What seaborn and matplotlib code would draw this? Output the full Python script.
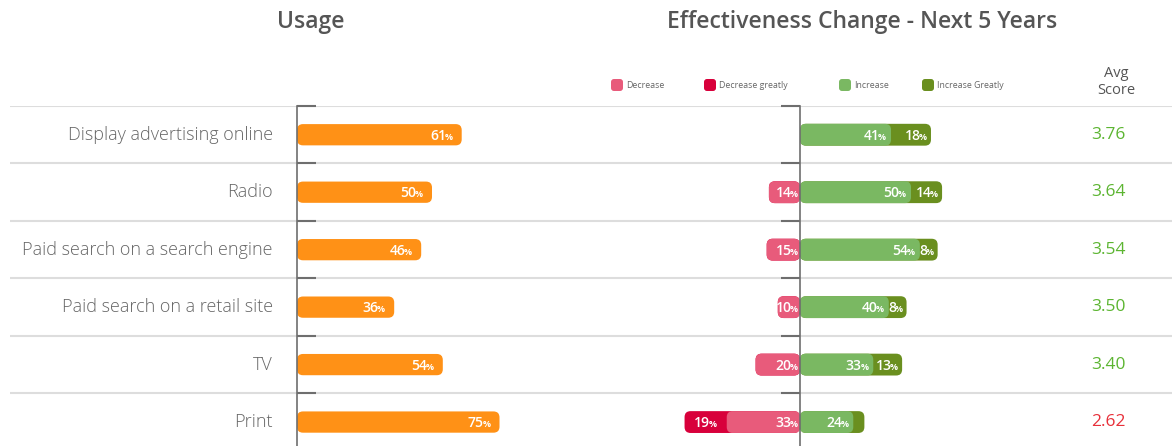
import numpy as np
import matplotlib.pyplot as plt
import seaborn as sns
from matplotlib.patches import FancyBboxPatch

# Data
channels = ["Display advertising online", "Radio", "Paid search on a search engine",
            "Paid search on a retail site", "TV", "Print"]
usage = [61, 50, 46, 36, 54, 75]
decrease = [0, 14, 15, 10, 20, 33]
decrease_greatly = [0, 0, 0, 0, 0, 19]
increase = [41, 50, 54, 40, 33, 24]
increase_greatly = [18, 14, 8, 8, 13, 5]
avg_score = [3.76, 3.64, 3.54, 3.50, 3.40, 2.62]
legend_labels = ["Decrease", "Decrease greatly", "Increase", "Increase Greatly"]

ORANGE = "#ff9116"
PINK = "#e85b7b"
RED = "#d8003b"
LGREEN = "#7ab862"
DGREEN = "#6a8f1f"
GRAY = "#555555"
AXIS = "#6e6e6e"

W, H = 1172, 446
TOP = 106            # pixel row of the first separator line
Y_LIM = ((H - 134) / 57.6, -0.5)
PX_Y = (H - TOP) / (Y_LIM[0] - Y_LIM[1])
USE_PX = 2.7         # pixels per percent, usage panel
EFF_PX = 2.22        # pixels per percent, effectiveness panel

sns.set_style("white")
plt.rcParams["font.family"] = ["Open Sans", "DejaVu Sans"]

fig = plt.figure(figsize=(W / 100, H / 100), dpi=100)


def px_axes(left, width):
    ax = fig.add_axes([left / W, 0, width / W, (H - TOP) / H])
    ax.set_facecolor("none")
    return ax


def round_bars(ax, px_x, radius=6):
    # swap seaborn's rectangles for rounded ones
    for p in list(ax.patches):
        w = p.get_width()
        if w == 0:
            continue
        x0 = min(p.get_x(), p.get_x() + w)
        r = radius / px_x
        fb = FancyBboxPatch((x0, p.get_y()), abs(w), p.get_height(),
                            boxstyle=f"round,pad=0,rounding_size={r}",
                            mutation_aspect=px_x / PX_Y,
                            fc=p.get_facecolor(), ec="none", zorder=p.get_zorder())
        p.remove()
        ax.add_patch(fb)


def pct_label(ax, x, y, v, off):
    ax.annotate("%", (x, y), xytext=(off, -5), textcoords="offset pixels",
                ha="right", va="baseline", fontsize=6.5, color="white",
                fontweight="bold", zorder=5)
    ax.annotate(f"{v}", (x, y), xytext=(off - 6.5, -5), textcoords="offset pixels",
                ha="right", va="baseline", fontsize=10, color="white",
                fontweight="semibold", zorder=5)


def style_axis(ax):
    for s in ["top", "right", "bottom"]:
        ax.spines[s].set_visible(False)
    ax.spines["left"].set_color(AXIS)
    ax.spines["left"].set_linewidth(1.2)
    ax.set_yticks(np.arange(len(channels)) - 0.5)
    ax.set_yticklabels([])
    ax.set_xticks([])
    ax.set_xlabel("")
    ax.set_ylabel("")
    ax.set_ylim(*Y_LIM)


# background: separators, row names, avg scores
ax_bg = px_axes(0, W)
ax_bg.set_xlim(0, W)
ax_bg.set_ylim(*Y_LIM)
ax_bg.axis("off")
ax_bg.hlines(np.arange(len(channels) + 1) - 0.5, 10, W, color="#dddddd", lw=1.5)
for i, (name, sc) in enumerate(zip(channels, avg_score)):
    ax_bg.text(273, i, name, ha="right", va="center", fontsize=13,
               color="#666666", fontweight="light")
    ax_bg.text(1108, i, f"{sc:.2f}", ha="center", va="center", fontsize=12.5,
               color="#5cb531" if sc >= 3 else "#e8303a")

# usage panel
ax_u = px_axes(297, 100 * USE_PX)
sns.barplot(x=usage, y=channels, orient="h", color=ORANGE, width=0.37,
            saturation=1, errorbar=None, ax=ax_u)
ax_u.set_xlim(0, 100)
style_axis(ax_u)
ax_u.tick_params(axis="y", left=True, direction="in", length=14, color=AXIS, width=1.5)
round_bars(ax_u, USE_PX)
for i, v in enumerate(usage):
    pct_label(ax_u, v, i, v, -9)

# effectiveness panel
ax_e = px_axes(800 - 70 * EFF_PX, 140 * EFF_PX)
inc_total = [a + b for a, b in zip(increase, increase_greatly)]
dec_total = [-(a + b) for a, b in zip(decrease, decrease_greatly)]
sns.barplot(x=inc_total, y=channels, orient="h", color=DGREEN, width=0.38,
            saturation=1, errorbar=None, ax=ax_e)
sns.barplot(x=increase, y=channels, orient="h", color=LGREEN, width=0.38,
            saturation=1, errorbar=None, ax=ax_e)
sns.barplot(x=dec_total, y=channels, orient="h", color=RED, width=0.38,
            saturation=1, errorbar=None, ax=ax_e)
sns.barplot(x=[-d for d in decrease], y=channels, orient="h", color=PINK, width=0.38,
            saturation=1, errorbar=None, ax=ax_e)
ax_e.set_xlim(-70, 70)
style_axis(ax_e)
ax_e.spines["left"].set_position(("data", 0))
ax_e.tick_params(axis="y", left=True, direction="out", length=14, color=AXIS, width=1.5)
round_bars(ax_e, EFF_PX)
for i in range(len(channels)):
    pct_label(ax_e, increase[i], i, increase[i], -5)
    if increase_greatly[i] >= 8:
        pct_label(ax_e, inc_total[i], i, increase_greatly[i], -4)
    if decrease[i] > 0:
        pct_label(ax_e, 0, i, decrease[i], -2)
    if decrease_greatly[i] > 0:
        pct_label(ax_e, -decrease[i], i, decrease_greatly[i], -10)

# header: titles, legend, avg score caption
ax_h = fig.add_axes([0, 0, 1, 1])
ax_h.set_facecolor("none")
ax_h.set_xlim(0, W)
ax_h.set_ylim(H, 0)
ax_h.axis("off")
ax_h.text(311, 22, "Usage", ha="center", va="center", fontsize=16.5,
          fontweight="semibold", color=GRAY)
ax_h.text(862, 22, "Effectiveness Change - Next 5 Years", ha="center", va="center",
          fontsize=16.5, fontweight="semibold", color=GRAY)
ax_h.text(1116, 82, "Avg\nScore", ha="center", va="center", fontsize=10.5,
          color=GRAY, linespacing=1.1)
for x, lab, col in zip([611, 704, 839, 922], legend_labels, [PINK, RED, LGREEN, DGREEN]):
    ax_h.add_patch(FancyBboxPatch((x, 79), 12, 12, boxstyle="round,pad=0,rounding_size=3",
                                  fc=col, ec="none"))
    ax_h.text(x + 15, 85.5, lab, ha="left", va="center", fontsize=6.3, color="#666666")

fig.savefig("out.png", dpi=100)
